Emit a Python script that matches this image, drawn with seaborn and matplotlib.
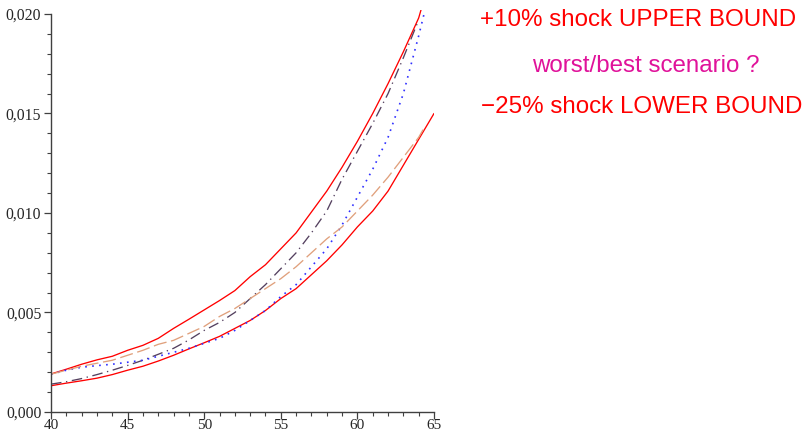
import numpy as np
import pandas as pd
import matplotlib
matplotlib.use("Agg")
import matplotlib.pyplot as plt
import seaborn as sns
from matplotlib.ticker import FuncFormatter, MultipleLocator

# ---- data ----
ages = list(range(40, 65))  # 40..64

upper_ages = ages + [64.15]
upper_vals = [0.00191, 0.00215, 0.0024, 0.00262, 0.0028, 0.0031, 0.00335, 0.0037,
              0.0042, 0.00466, 0.00513, 0.0056, 0.0061, 0.0068, 0.0074, 0.0082,
              0.0090, 0.01005, 0.0111, 0.0123, 0.0136, 0.0150, 0.0165, 0.0181,
              0.0198, 0.0202]

lower_ages = list(range(40, 66))
lower_vals = [0.00132, 0.00145, 0.00157, 0.0017, 0.00188, 0.0021, 0.0023, 0.00256,
              0.00285, 0.00317, 0.00348, 0.0038, 0.0042, 0.0046, 0.0051, 0.0057,
              0.0062, 0.0069, 0.0076, 0.0084, 0.0093, 0.0101, 0.0111, 0.0124,
              0.0137, 0.0150]

dashdot_ages = ages
dashdot_vals = [0.0014, 0.00152, 0.00168, 0.00188, 0.0021, 0.00234, 0.0026, 0.0029,
                0.0032, 0.00362, 0.0041, 0.0045, 0.0050, 0.0057, 0.0064, 0.0072,
                0.0080, 0.0090, 0.0101, 0.0117, 0.0131, 0.0145, 0.0160, 0.0178,
                0.0197]

dotted_ages = ages + [64.35]
dotted_vals = [0.0019, 0.0021, 0.00225, 0.00233, 0.0024, 0.0025, 0.0026, 0.0028,
               0.0030, 0.0032, 0.00345, 0.0037, 0.0041, 0.0046, 0.0051, 0.0058,
               0.0064, 0.0073, 0.0082, 0.0094, 0.0108, 0.0122, 0.0138, 0.0160,
               0.0189, 0.0200]

dashed_ages = ages + [64.35]
dashed_vals = [0.0019, 0.0021, 0.0023, 0.00245, 0.0026, 0.00285, 0.0031, 0.0034,
               0.0036, 0.00395, 0.0043, 0.0048, 0.0052, 0.0057, 0.0062, 0.0067,
               0.0073, 0.0080, 0.0087, 0.0093, 0.0101, 0.0109, 0.0118, 0.0128,
               0.0138, 0.01427]

x_ticks = [40, 45, 50, 55, 60, 65]
y_ticks = [0.0, 0.005, 0.010, 0.015, 0.020]

label_upper = "+10% shock UPPER BOUND"
label_mid = "worst/best scenario ?"
label_lower = "\u221225% shock LOWER BOUND"

# ---- plot ----
sns.set_style("white")
fig = plt.figure(figsize=(8.04, 4.34), dpi=100)
ax = fig.add_axes([51 / 804, 1 - 412 / 434, (434 - 51) / 804, (412 - 10) / 434])

lw = 0.95
sns.lineplot(x=upper_ages, y=upper_vals, ax=ax, color="#ff0000", lw=lw,
             sort=False, estimator=None)
sns.lineplot(x=lower_ages, y=lower_vals, ax=ax, color="#ff0000", lw=lw,
             sort=False, estimator=None)
sns.lineplot(x=dashdot_ages, y=dashdot_vals, ax=ax, color="#54405f", lw=lw,
             linestyle=(0, (8, 3.5, 1, 3.5)), sort=False, estimator=None)
sns.lineplot(x=dotted_ages, y=dotted_vals, ax=ax, color="#3030ff", lw=1.2,
             linestyle=(0, (1, 3.2)), sort=False, estimator=None)
sns.lineplot(x=dashed_ages, y=dashed_vals, ax=ax, color="#e0a07c", lw=lw,
             linestyle=(0, (10, 3.5)), sort=False, estimator=None)

ax.set_xlim(40, 65)
ax.set_ylim(0, 0.0202)
ax.set_xticks(x_ticks)
ax.set_yticks(y_ticks)
ax.xaxis.set_minor_locator(MultipleLocator(1))
ax.yaxis.set_minor_locator(MultipleLocator(0.001))
ax.yaxis.set_major_formatter(FuncFormatter(lambda v, p: f"{v:.3f}".replace(".", ",")))
ax.xaxis.set_major_formatter(FuncFormatter(lambda v, p: f"{v:.0f}"))

for s in ["top", "right"]:
    ax.spines[s].set_visible(False)
for s in ["left", "bottom"]:
    ax.spines[s].set_color("#404040")
    ax.spines[s].set_linewidth(1.0)
ax.spines["left"].set_bounds(0, 0.020)

ax.tick_params(axis="both", which="major", direction="out", length=5, width=0.9,
               color="#404040", labelsize=11.3, pad=2, left=True, bottom=True)
ax.tick_params(axis="x", which="major", pad=0.3, labelsize=11)
ax.tick_params(axis="both", which="minor", direction="out", length=3, width=0.8,
               color="#404040", left=True, bottom=True)
for lab in ax.get_xticklabels() + ax.get_yticklabels():
    lab.set_family("Liberation Serif")
ax.set_xlabel("")
ax.set_ylabel("")

fs = 17.4
fig.text(638 / 804, 1 - 20 / 434, label_upper, color="#ff0000", fontsize=fs,
         family="Liberation Sans", ha="center", va="center")
fig.text(646 / 804, 1 - 66 / 434, label_mid, color="#e0129a", fontsize=fs,
         family="Liberation Sans", ha="center", va="center")
fig.text(642 / 804, 1 - 107 / 434, label_lower, color="#ff0000", fontsize=fs,
         family="Liberation Sans", ha="center", va="center")

fig.savefig("out.png", dpi=100, facecolor="white")
